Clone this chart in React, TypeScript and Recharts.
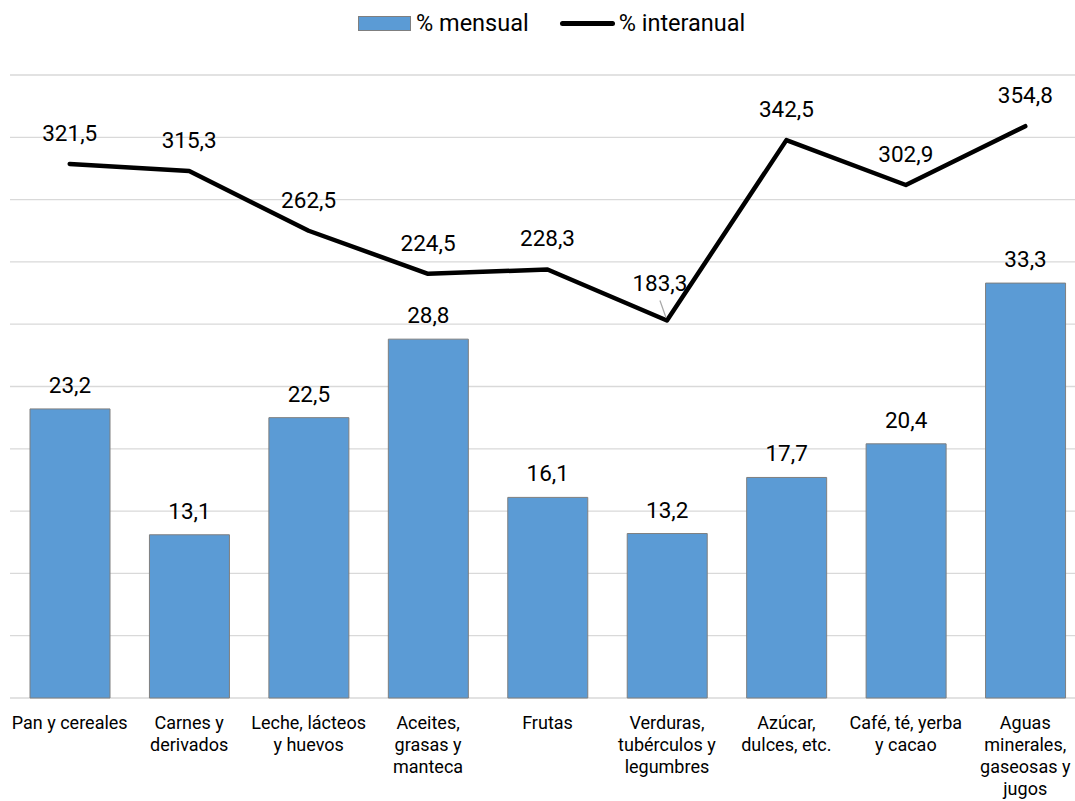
import React from 'react';
import {
  ComposedChart,
  Bar,
  Line,
  XAxis,
  YAxis,
  CartesianGrid,
  LabelList,
} from 'recharts';

const categories = [
  'Pan y cereales',
  'Carnes y\nderivados',
  'Leche, lácteos\ny huevos',
  'Aceites,\ngrasas y\nmanteca',
  'Frutas',
  'Verduras,\ntubérculos y\nlegumbres',
  'Azúcar,\ndulces, etc.',
  'Café, té, yerba\ny cacao',
  'Aguas\nminerales,\ngaseosas y\njugos',
];

const mensual = [23.2, 13.1, 22.5, 28.8, 16.1, 13.2, 17.7, 20.4, 33.3];
const interanual = [321.5, 315.3, 262.5, 224.5, 228.3, 183.3, 342.5, 302.9, 354.8];

const leftTicks = [0, 5, 10, 15, 20, 25, 30, 35, 40, 45, 50];

const data = categories.map((name, i) => ({
  name,
  mensual: mensual[i],
  interanual: interanual[i],
}));

const FONT = 'Roboto, "Liberation Sans", Arial, sans-serif';
const fmt = (v: number) => v.toFixed(1).replace('.', ',');

// Multi-line category labels
function CategoryTick({ x, y, payload }: any) {
  const lines = String(payload.value).split('\n');
  return (
    <text x={x} y={y} textAnchor="middle" fontSize={18} fill="#000" fontFamily={FONT}>
      {lines.map((l, i) => (
        <tspan key={i} x={x} dy={i === 0 ? 31 : 22}>
          {l}
        </tspan>
      ))}
    </text>
  );
}

const BarLabel = ({ x, y, width, value }: any) => (
  <text
    x={x + width / 2}
    y={y - 16}
    textAnchor="middle"
    fontSize={22.5}
    fill="#000"
    fontFamily={FONT}
  >
    {fmt(value)}
  </text>
);

const LineLabel = ({ x, y, value, index }: any) => {
  // the 183,3 label sits a bit off its point, with a leader line
  if (index === 5) {
    return (
      <g>
        <line x1={x - 7} y1={y - 20} x2={x - 1} y2={y - 3} stroke="#a6a6a6" strokeWidth={1.2} />
        <text x={x - 7} y={y - 29} textAnchor="middle" fontSize={22.5} fill="#000" fontFamily={FONT}>
          {fmt(value)}
        </text>
      </g>
    );
  }
  return (
    <text x={x} y={y - 23} textAnchor="middle" fontSize={22.5} fill="#000" fontFamily={FONT}>
      {fmt(value)}
    </text>
  );
};

export default function App() {
  return (
    <div
      style={{
        position: 'absolute',
        top: 0,
        left: 0,
        width: 1075,
        height: 801,
        overflow: 'hidden',
        background: '#fff',
        fontFamily: FONT,
      }}
    >
      {/* Legend */}
      <div
        style={{
          position: 'absolute',
          top: 8,
          left: 358,
          display: 'flex',
          alignItems: 'center',
          fontSize: 23.5,
          color: '#000',
          height: 30,
          whiteSpace: 'nowrap',
        }}
      >
        <span
          style={{
            display: 'inline-block',
            width: 51,
            height: 13,
            background: '#5B9BD5',
            border: '1px solid #7f7f7f',
            marginRight: 5,
          }}
        />
        <span style={{ marginRight: 31 }}>% mensual</span>
        <span
          style={{
            display: 'inline-block',
            width: 55,
            height: 5,
            background: '#000',
            borderRadius: 3,
            marginRight: 4,
          }}
        />
        <span>% interanual</span>
      </div>

      <ComposedChart
        width={1085}
        height={801}
        data={data}
        margin={{ top: 75, right: 0, left: 10, bottom: 0 }}
      >
        <CartesianGrid vertical={false} yAxisId="left" stroke="#d9d9d9" strokeWidth={1.3} />
        <XAxis
          dataKey="name"
          axisLine={false}
          tickLine={false}
          tickSize={0}
          tickMargin={0}
          height={103}
          interval={0}
          tick={<CategoryTick />}
        />
        <YAxis yAxisId="left" hide domain={[0, 50]} ticks={leftTicks} />
        <YAxis yAxisId="right" orientation="right" hide domain={[-150, 400]} />
        <Bar
          yAxisId="left"
          dataKey="mensual"
          fill="#5B9BD5"
          stroke="#7f7f7f"
          strokeWidth={1}
          barSize={80}
          isAnimationActive={false}
        >
          <LabelList dataKey="mensual" content={<BarLabel />} />
        </Bar>
        <Line
          yAxisId="right"
          type="linear"
          dataKey="interanual"
          stroke="#000"
          strokeWidth={4.5}
          strokeLinecap="round"
          strokeLinejoin="round"
          dot={false}
          activeDot={false}
          isAnimationActive={false}
        >
          <LabelList dataKey="interanual" content={<LineLabel />} />
        </Line>
      </ComposedChart>
    </div>
  );
}
